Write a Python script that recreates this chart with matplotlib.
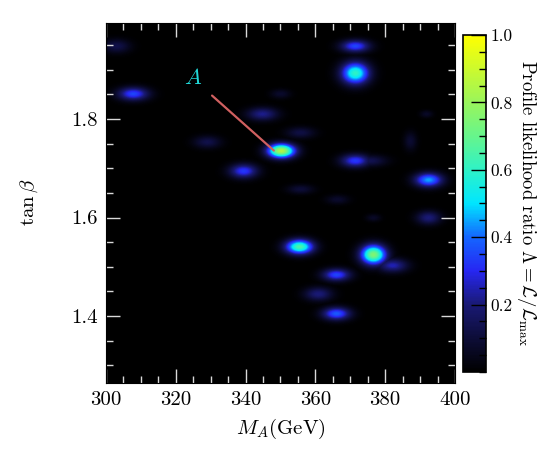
import numpy as np
import matplotlib
matplotlib.use("Agg")
import matplotlib.pyplot as plt
from matplotlib.colors import LinearSegmentedColormap
from matplotlib.ticker import MultipleLocator

plt.rcParams['font.family'] = 'serif'
plt.rcParams['font.serif'] = ['cmr10', 'DejaVu Serif']
plt.rcParams['mathtext.fontset'] = 'cm'
plt.rcParams['axes.formatter.use_mathtext'] = True

# ---- data ----
x_range = [300, 400]
y_range = [1.265, 1.995]
blob_x    = [302.9, 307.7, 344.7, 328.9, 339.3, 350.1, 371.3, 371.3, 371.3, 375.5, 392.3, 355.6, 349.9,
             387.1, 355.6, 366.2, 391.7, 376.5, 392.3, 355.3, 376.5, 382.0, 365.9, 360.7, 365.9]
blob_y    = [1.949, 1.852, 1.811, 1.754, 1.695, 1.736, 1.949, 1.894, 1.716, 1.716, 1.677, 1.773, 1.852,
             1.756, 1.658, 1.637, 1.811, 1.600, 1.600, 1.541, 1.525, 1.503, 1.484, 1.445, 1.405]
blob_peak = [0.13, 0.35, 0.22, 0.13, 0.33, 0.85, 0.35, 0.60, 0.33, 0.14, 0.45, 0.12, 0.08,
             0.09, 0.10, 0.08, 0.07, 0.07, 0.20, 0.65, 0.75, 0.25, 0.35, 0.20, 0.38]
blob_sx   = [2.7, 3.0, 3.0, 2.7, 2.75, 2.7, 2.85, 2.75, 2.85, 3.3, 2.75, 2.85, 2.0,
             1.3, 2.6, 2.3, 1.3, 1.5, 2.4, 2.75, 2.5, 2.95, 2.75, 2.75, 2.75]
blob_sy   = [0.0096, 0.0092, 0.0090, 0.0087, 0.0099, 0.0099, 0.0086, 0.0154, 0.0092, 0.0079, 0.0099, 0.0079, 0.0066,
             0.0132, 0.0066, 0.0066, 0.0053, 0.0053, 0.0095, 0.0103, 0.0137, 0.0095, 0.0086, 0.0095, 0.0090]
x_ticks = [300, 320, 340, 360, 380, 400]
y_ticks = [1.4, 1.6, 1.8]
cbar_ticks = [0.2, 0.4, 0.6, 0.8, 1.0]
label_A = "A"
label_A_xy = (324.9, 1.882)
line_A_start = (329.8, 1.851)
line_A_end = (348.7, 1.732)

# ---- grid ----
gx = np.linspace(x_range[0], x_range[1], 350)
gy = np.linspace(y_range[0], y_range[1], 360)
X, Y = np.meshgrid(gx, gy)
Z = np.zeros_like(X)
for bx, by, bp, sx, sy in zip(blob_x, blob_y, blob_peak, blob_sx, blob_sy):
    Z = np.maximum(Z, bp * np.exp(-0.5 * (((X - bx) / sx) ** 2 + ((Y - by) / sy) ** 2)))

cmap = LinearSegmentedColormap.from_list("lik", [
    (0.00, (0.0, 0.0, 0.0)),
    (0.10, (0.05, 0.05, 0.22)),
    (0.20, (0.10, 0.10, 0.46)),
    (0.30, (0.15, 0.15, 0.95)),
    (0.40, (0.08, 0.40, 1.0)),
    (0.50, (0.0, 0.90, 1.0)),
    (0.60, (0.18, 0.95, 0.78)),
    (0.70, (0.40, 0.96, 0.55)),
    (0.80, (0.60, 0.96, 0.36)),
    (0.90, (0.80, 0.98, 0.18)),
    (1.00, (1.0, 1.0, 0.0)),
])

fig = plt.figure(figsize=(5.56, 4.58), dpi=100)
ax = fig.add_axes([0.1906, 0.1644, 0.6277, 0.786])
im = ax.imshow(Z, origin='lower', extent=[x_range[0], x_range[1], y_range[0], y_range[1]],
               aspect='auto', cmap=cmap, vmin=0, vmax=1, interpolation='bilinear')
ax.set_xlim(x_range)
ax.set_ylim(y_range)
ax.set_xticks(x_ticks)
ax.set_yticks(y_ticks)
ax.xaxis.set_minor_locator(MultipleLocator(5))
ax.yaxis.set_minor_locator(MultipleLocator(0.05))
ax.tick_params(which='both', direction='in', top=True, right=True, color='0.85', labelsize=15, width=1.0)
ax.tick_params(which='major', length=10, pad=6)
ax.tick_params(which='minor', length=5)
ax.set_xticklabels([str(t) for t in x_ticks])
ax.set_yticklabels([f"{t:.1f}" for t in y_ticks])
ax.set_xlabel(r"$M_A(\mathrm{GeV})$", fontsize=15, labelpad=6)
ax.set_ylabel(r"$\tan\beta$", fontsize=15, labelpad=22)

ax.annotate("", xy=line_A_end, xytext=line_A_start,
            arrowprops=dict(arrowstyle='-', color='#d06060', lw=1.6))
ax.text(label_A_xy[0], label_A_xy[1], r"$A$", color='#20d8d8', fontsize=16,
        ha='center', va='center')

cax = fig.add_axes([0.8327, 0.1878, 0.0414, 0.7358])
cb = fig.colorbar(im, cax=cax)
cb.set_ticks(cbar_ticks)
cb.set_ticklabels([f"{t:.1f}" for t in cbar_ticks])
cax.yaxis.set_minor_locator(MultipleLocator(0.05))
cax.tick_params(which='both', direction='in', color='black', labelsize=12.5, width=1.0)
cax.tick_params(which='major', length=11)
cax.tick_params(which='minor', length=5)
cb.outline.set_linewidth(1.2)
cb.set_label(r"Profile likelihood ratio $\Lambda = \mathcal{L}/\mathcal{L}_{\max}$",
             rotation=270, fontsize=13.5, labelpad=18)

fig.savefig("out.png", dpi=100)
